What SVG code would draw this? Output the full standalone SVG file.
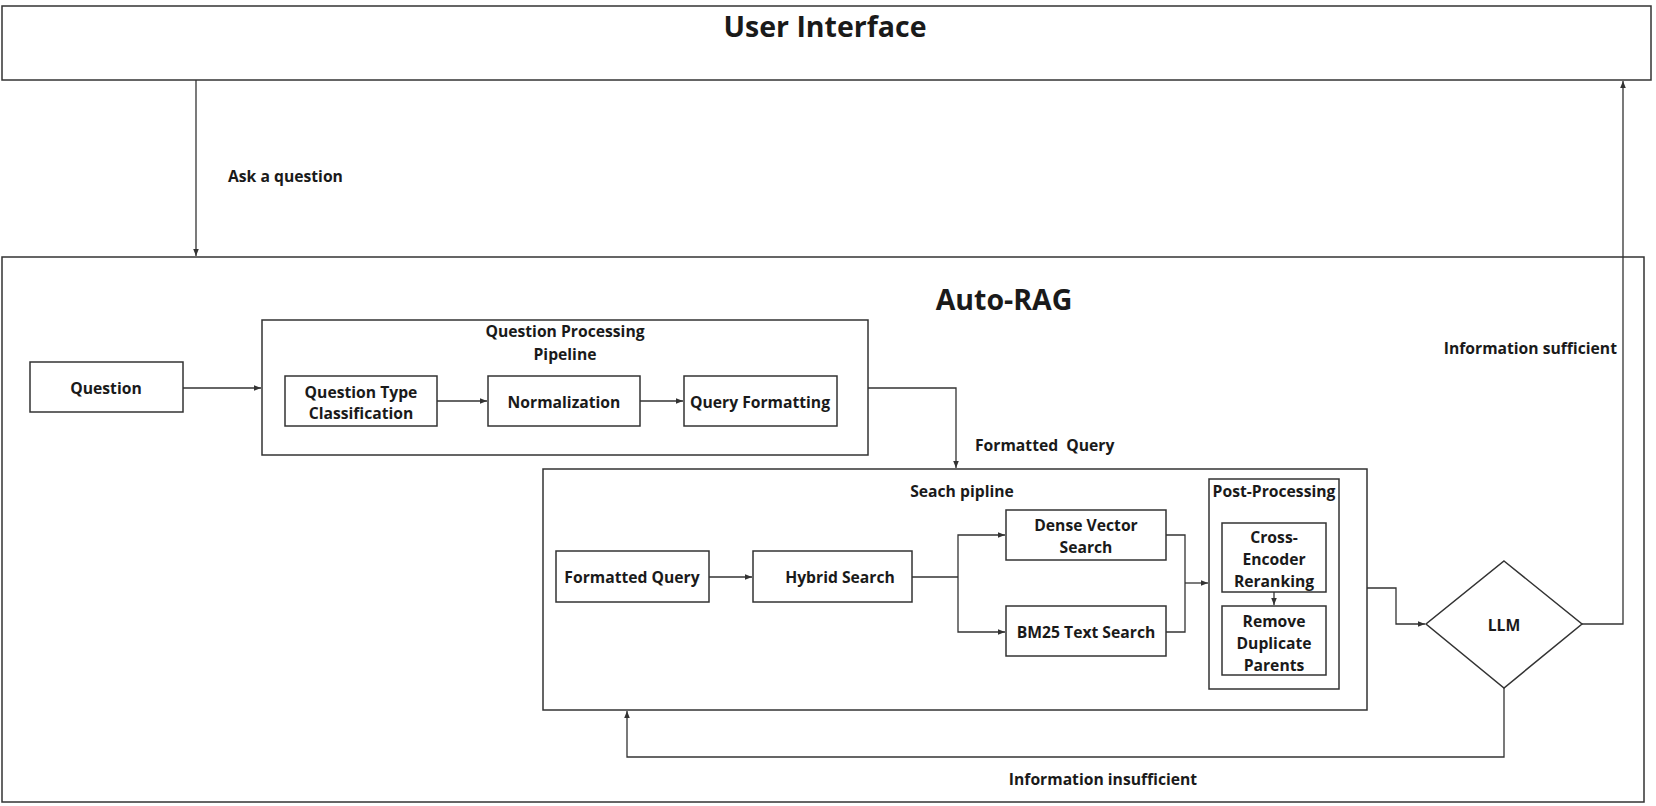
<svg xmlns="http://www.w3.org/2000/svg" width="1656" height="806" viewBox="0 0 1656 806">
<defs>
<marker id="arr" viewBox="0 0 10 10" refX="10" refY="5" markerWidth="7" markerHeight="7" markerUnits="userSpaceOnUse" orient="auto">
<path d="M0,1 L10,5 L0,9 z" fill="#333"/>
</marker>
<style>
.box{fill:#fff;stroke:#333;stroke-width:1.5}
.cont{fill:none;stroke:#333;stroke-width:1.5}
.t{font-family:"Open Sans","Noto Sans","Liberation Sans",sans-serif;font-weight:700;font-size:15.7px;fill:#1a1a1a;text-anchor:middle}
.lbl{font-family:"Open Sans","Noto Sans","Liberation Sans",sans-serif;font-weight:700;font-size:15.7px;fill:#1a1a1a;white-space:pre}
.title{font-family:"Open Sans","Noto Sans","Liberation Sans",sans-serif;font-weight:700;font-size:28.5px;fill:#1a1a1a;text-anchor:middle}
.c{fill:none;stroke:#333;stroke-width:1.3;marker-end:url(#arr)}
.cn{fill:none;stroke:#333;stroke-width:1.3}
</style>
</defs>
<g id="user-interface">
<rect class="cont" x="2" y="6" width="1649" height="74"/>
<text class="title" x="825" y="37">User Interface</text>
</g>
<g id="auto-rag">
<rect class="cont" x="2" y="257" width="1642" height="545"/>
<text class="title" x="1004" y="310">Auto-RAG</text>
</g>
<g id="question">
<rect class="box" x="30" y="362" width="153" height="50"/>
<text class="t" x="106" y="394">Question</text>
</g>
<g id="question-processing-pipeline">
<rect class="cont" x="262" y="320" width="606" height="135"/>
<text class="t" x="565" y="337">Question Processing</text>
<text class="t" x="565" y="360">Pipeline</text>
</g>
<g id="question-type-classification">
<rect class="box" x="285" y="376" width="152" height="50"/>
<text class="t" x="361" y="398">Question Type</text>
<text class="t" x="361" y="419">Classification</text>
</g>
<g id="normalization">
<rect class="box" x="488" y="376" width="152" height="50"/>
<text class="t" x="564" y="408">Normalization</text>
</g>
<g id="query-formatting">
<rect class="box" x="684" y="376" width="153" height="50"/>
<text class="t" x="760" y="408">Query Formatting</text>
</g>
<g id="search-pipeline">
<rect class="cont" x="543" y="469" width="824" height="241"/>
<text class="t" x="962" y="497">Seach pipline</text>
</g>
<g id="formatted-query">
<rect class="box" x="556" y="551" width="153" height="51"/>
<text class="t" x="632" y="583">Formatted Query</text>
</g>
<g id="hybrid-search">
<rect class="box" x="753" y="551" width="159" height="51"/>
<text class="t" x="840" y="583">Hybrid Search</text>
</g>
<g id="dense-vector-search">
<rect class="box" x="1006" y="510" width="160" height="50"/>
<text class="t" x="1086" y="531">Dense Vector</text>
<text class="t" x="1086" y="553">Search</text>
</g>
<g id="bm25-text-search">
<rect class="box" x="1006" y="606" width="160" height="50"/>
<text class="t" x="1086" y="638">BM25 Text Search</text>
</g>
<g id="post-processing">
<rect class="cont" x="1209" y="479" width="130" height="210"/>
<text class="t" x="1274" y="497">Post-Processing</text>
</g>
<g id="cross-encoder-reranking">
<rect class="box" x="1222" y="523" width="104" height="69"/>
<text class="t" x="1274" y="543">Cross-</text>
<text class="t" x="1274" y="565">Encoder</text>
<text class="t" x="1274" y="587">Reranking</text>
</g>
<g id="remove-duplicate-parents">
<rect class="box" x="1222" y="606" width="104" height="69"/>
<text class="t" x="1274" y="627">Remove</text>
<text class="t" x="1274" y="649">Duplicate</text>
<text class="t" x="1274" y="671">Parents</text>
</g>
<g id="llm">
<polygon class="box" points="1504,561 1582,624 1504,688 1426,624"/>
<text class="t" x="1504" y="631">LLM</text>
</g>
<g id="connectors">
<path class="c" d="M196,80 L196,256"/>
<text class="lbl" x="228" y="182">Ask a question</text>
<path class="c" d="M183,388 L261,388"/>
<path class="c" d="M437,401 L487,401"/>
<path class="c" d="M640,401 L683,401"/>
<path class="c" d="M868,388 L956,388 L956,468"/>
<text class="lbl" x="975" y="451">Formatted  Query</text>
<path class="c" d="M709,577 L752,577"/>
<path class="cn" d="M912,577 L958,577"/>
<path class="c" d="M958,577 L958,535 L1005,535"/>
<path class="c" d="M958,577 L958,632 L1005,632"/>
<path class="cn" d="M1166,535 L1185,535 L1185,632 L1166,632"/>
<path class="c" d="M1185,583 L1208,583"/>
<path class="c" d="M1274,592 L1274,605"/>
<path class="c" d="M1367,588 L1396,588 L1396,624 L1425,624"/>
<path class="c" d="M1582,624 L1623,624 L1623,81"/>
<text class="lbl" x="1617" y="354" text-anchor="end">Information sufficient</text>
<path class="c" d="M1504,688 L1504,757 L627,757 L627,711"/>
<text class="t" x="1103" y="785">Information insufficient</text>
</g>
</svg>
